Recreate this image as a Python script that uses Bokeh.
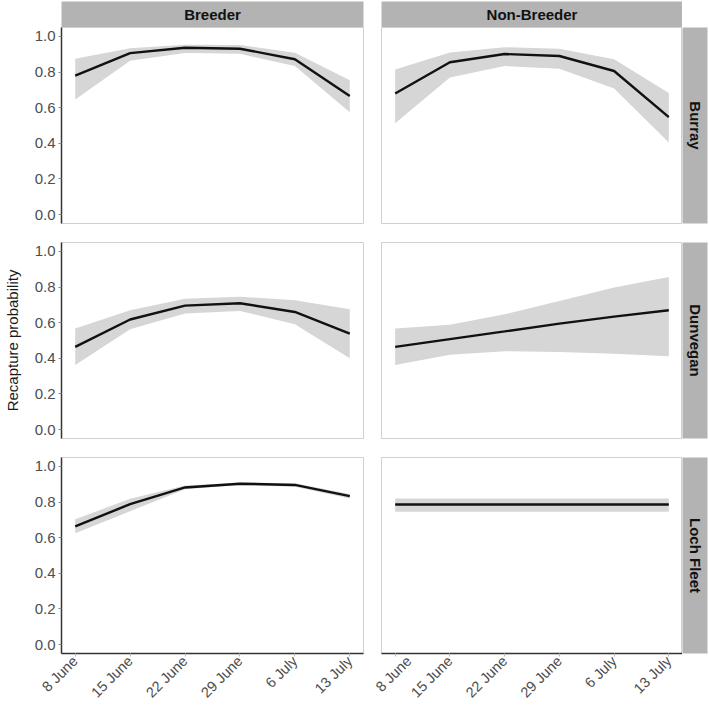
from bokeh.plotting import figure
from bokeh.layouts import column, row, Spacer
from bokeh.models import FixedTicker, Range1d, NumeralTickFormatter
from bokeh.core.properties import value
from bokeh.embed import file_html
from bokeh.resources import INLINE
import math

# Sampling occasions (weeks after 8 June) and their labels
weeks = [0, 1, 2, 3, 4, 5]
week_labels = ["8 June", "15 June", "22 June", "29 June", "6 July", "13 July"]
statuses = ["Breeder", "Non-Breeder"]
sites = ["Burray", "Dunvegan", "Loch Fleet"]
y_ticks = [0.0, 0.2, 0.4, 0.6, 0.8, 1.0]

# Recapture probability estimates with 95% interval bounds
burray_breeder_est = [0.780, 0.906, 0.936, 0.931, 0.872, 0.666]
burray_breeder_lo = [0.646, 0.864, 0.907, 0.902, 0.834, 0.574]
burray_breeder_hi = [0.875, 0.934, 0.953, 0.952, 0.908, 0.754]

burray_nonbreeder_est = [0.680, 0.855, 0.901, 0.890, 0.806, 0.547]
burray_nonbreeder_lo = [0.512, 0.769, 0.834, 0.819, 0.708, 0.404]
burray_nonbreeder_hi = [0.814, 0.909, 0.939, 0.931, 0.872, 0.683]

dunvegan_breeder_est = [0.464, 0.618, 0.696, 0.709, 0.660, 0.539]
dunvegan_breeder_lo = [0.362, 0.563, 0.651, 0.666, 0.591, 0.400]
dunvegan_breeder_hi = [0.567, 0.670, 0.735, 0.746, 0.726, 0.675]

dunvegan_nonbreeder_est = [0.464, 0.508, 0.551, 0.595, 0.634, 0.670]
dunvegan_nonbreeder_lo = [0.362, 0.420, 0.440, 0.436, 0.425, 0.411]
dunvegan_nonbreeder_hi = [0.567, 0.588, 0.647, 0.722, 0.797, 0.856]

lochfleet_breeder_est = [0.664, 0.788, 0.882, 0.903, 0.896, 0.833]
lochfleet_breeder_lo = [0.625, 0.749, 0.872, 0.895, 0.886, 0.820]
lochfleet_breeder_hi = [0.703, 0.818, 0.893, 0.910, 0.905, 0.845]

lochfleet_nonbreeder_est = [0.786, 0.786, 0.786, 0.786, 0.786, 0.786]
lochfleet_nonbreeder_lo = [0.746, 0.746, 0.746, 0.746, 0.746, 0.746]
lochfleet_nonbreeder_hi = [0.820, 0.820, 0.820, 0.820, 0.820, 0.820]

series = [
    [(burray_breeder_est, burray_breeder_lo, burray_breeder_hi),
     (burray_nonbreeder_est, burray_nonbreeder_lo, burray_nonbreeder_hi)],
    [(dunvegan_breeder_est, dunvegan_breeder_lo, dunvegan_breeder_hi),
     (dunvegan_nonbreeder_est, dunvegan_nonbreeder_lo, dunvegan_nonbreeder_hi)],
    [(lochfleet_breeder_est, lochfleet_breeder_lo, lochfleet_breeder_hi),
     (lochfleet_nonbreeder_est, lochfleet_nonbreeder_lo, lochfleet_nonbreeder_hi)],
]

FONT = "Liberation Sans"
STRIP = "#B3B3B3"
BORDER = "#D0D0D0"
AXIS = "#333333"
TICK_TEXT = "#4D4D4D"

LEFT_W, RIGHT_W, STRIP_W = 372, 310, 27
row_heights = [205, 215, 263]
row_top = [0, 10, 10]
row_bottom = [9, 9, 57]


def panel(est, lo, hi, r, c):
    show_y = c == 0
    show_x = r == 2
    p = figure(
        width=LEFT_W if c == 0 else RIGHT_W,
        height=row_heights[r],
        x_range=Range1d(-0.25, 5.25),
        y_range=Range1d(-0.05, 1.05),
        output_backend="svg",
        toolbar_location=None,
        title=None,
        x_axis_location="below" if show_x else None,
        y_axis_location="left" if show_y else None,
        min_border_left=61 if c == 0 else 9,
        min_border_right=9 if c == 0 else 0,
        min_border_top=row_top[r],
        min_border_bottom=row_bottom[r],
    )
    p.grid.visible = False
    p.outline_line_color = BORDER
    p.outline_line_width = 1
    p.background_fill_color = "white"
    p.border_fill_color = "white"

    p.varea(x=weeks, y1=lo, y2=hi, fill_color="#D6D6D6", fill_alpha=1.0)
    p.line(x=weeks, y=est, line_color="#111111", line_width=2.4)

    if show_y:
        ax = p.yaxis[0]
        ax.ticker = FixedTicker(ticks=y_ticks)
        ax.formatter = NumeralTickFormatter(format="0.0")
        ax.axis_line_color = AXIS
        ax.axis_line_width = 1.5
        ax.major_tick_line_color = "#888888"
        ax.major_tick_out = 3
        ax.major_tick_in = 0
        ax.minor_tick_line_color = None
        ax.major_label_text_font = FONT
        ax.major_label_text_font_size = "15px"
        ax.major_label_text_color = TICK_TEXT
        ax.major_label_standoff = 3
        if r == 1:
            ax.axis_label = "Recapture probability"
            ax.axis_label_text_font = FONT
            ax.axis_label_text_font_size = "15px"
            ax.axis_label_text_font_style = "normal"
            ax.axis_label_text_color = "#1A1A1A"
            ax.axis_label_standoff = 11
    if show_x:
        ax = p.xaxis[0]
        ax.ticker = FixedTicker(ticks=weeks)
        ax.major_label_overrides = {w: lab for w, lab in zip(weeks, week_labels)}
        ax.major_label_orientation = math.pi / 4
        ax.axis_line_color = AXIS
        ax.axis_line_width = 1.5
        ax.major_tick_line_color = "#BBBBBB"
        ax.major_tick_out = 3
        ax.major_tick_in = 0
        ax.minor_tick_line_color = None
        ax.major_label_text_font = FONT
        ax.major_label_text_font_size = "14.5px"
        ax.major_label_text_color = TICK_TEXT
        ax.major_label_standoff = 2
    return p


def strip(label, width, height, borders, vertical=False):
    left, right, top, bottom = borders
    s = figure(
        width=width, height=height,
        x_range=Range1d(0, 1), y_range=Range1d(0, 1),
        output_backend="svg", toolbar_location=None, title=None,
        x_axis_location=None, y_axis_location=None,
        min_border_left=left, min_border_right=right,
        min_border_top=top, min_border_bottom=bottom,
    )
    s.grid.visible = False
    s.outline_line_color = None
    s.background_fill_color = STRIP
    s.border_fill_color = "white"
    s.text(x=[0.5], y=[0.5], text=[label],
           angle=-math.pi / 2 if vertical else 0,
           text_align="center", text_baseline="middle",
           text_font=value(FONT), text_font_style="bold",
           text_font_size="15px", text_color="#111111")
    return s


top_row = row(
    strip(statuses[0], LEFT_W, 27, (61, 9, 1, 0)),
    strip(statuses[1], RIGHT_W, 27, (9, 0, 1, 0)),
    Spacer(width=STRIP_W, height=27),
)

rows = [top_row]
for r, site in enumerate(sites):
    left_p = panel(*series[r][0], r, 0)
    right_p = panel(*series[r][1], r, 1)
    side = strip(site, STRIP_W, row_heights[r], (0, 2, row_top[r], row_bottom[r]), vertical=True)
    rows.append(row(left_p, right_p, side))

layout = column(*rows)

open("out.html", "w").write(file_html(layout, INLINE))
